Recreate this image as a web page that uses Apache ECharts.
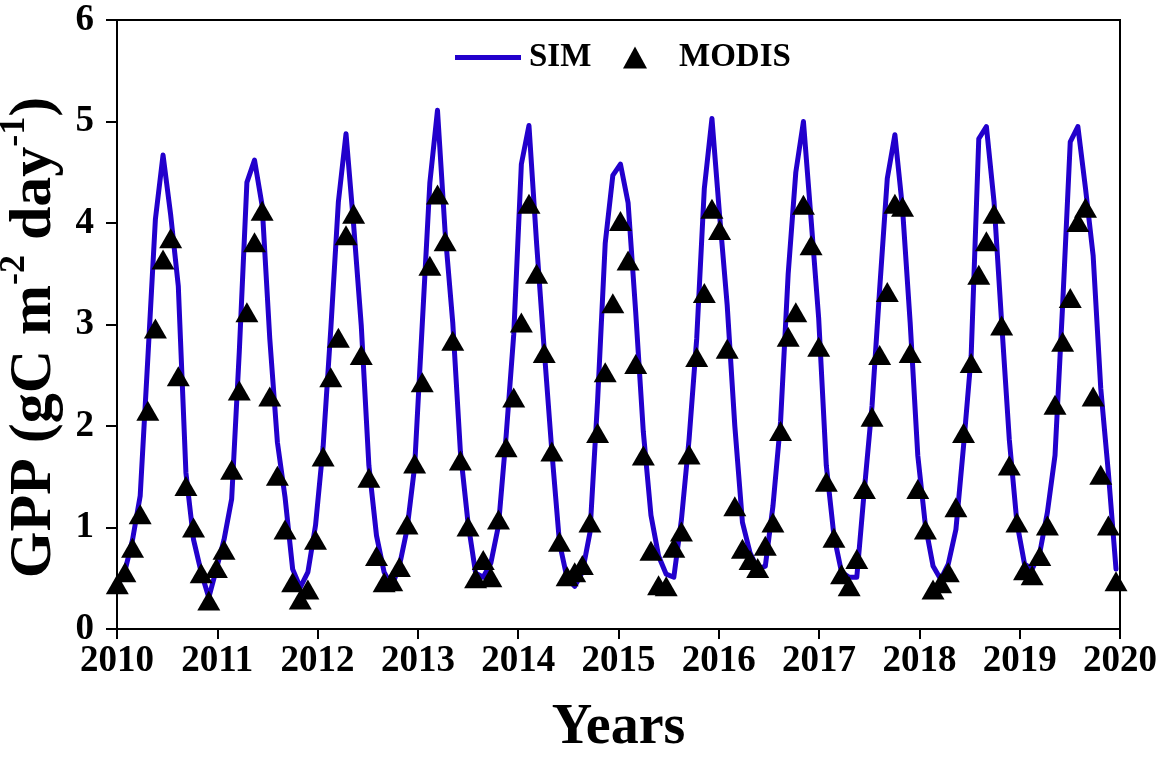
<!DOCTYPE html>
<html>
<head>
<meta charset="utf-8">
<script src="https://cdn.jsdelivr.net/npm/echarts@6/dist/echarts.min.js"></script>
<style>
html,body{margin:0;padding:0;background:#fff;}
#chart{width:1169px;height:757px;}
</style>
</head>
<body>
<div id="chart"></div>
<script>
// x-axis tick labels (years)
const yearTicks = [2010, 2011, 2012, 2013, 2014, 2015, 2016, 2017, 2018, 2019, 2020];

// MODIS GPP (gC m-2 day-1), 132 time steps spanning the axis
const modis = [
  0.44, 0.56, 0.80, 1.13, 2.15, 2.96, 3.64, 3.85, 2.49, 1.41, 1.00, 0.55,
  0.28, 0.60, 0.78, 1.57, 2.35, 3.12, 3.81, 4.12, 2.29, 1.51, 0.98, 0.46,
  0.29, 0.39, 0.88, 1.70, 2.48, 2.87, 3.88, 4.09, 2.70, 1.49, 0.72, 0.46,
  0.47, 0.61, 1.03, 1.63, 2.43, 3.58, 4.28, 3.82, 2.84, 1.66, 1.01, 0.50,
  0.68, 0.51, 1.08, 1.79, 2.28, 3.02, 4.19, 3.50, 2.72, 1.75, 0.86, 0.52,
  0.56, 0.63, 1.05, 1.93, 2.53, 3.21, 4.02, 3.63, 2.61, 1.71, 0.77, 0.43,
  0.42, 0.80, 0.96, 1.72, 2.68, 3.31, 4.14, 3.93, 2.76, 1.21, 0.79, 0.68,
  0.60, 0.82, 1.05, 1.95, 2.88, 3.12, 4.18, 3.78, 2.78, 1.45, 0.90, 0.54,
  0.42, 0.69, 1.38, 2.09, 2.70, 3.32, 4.19, 4.16, 2.72, 1.38, 0.98, 0.39,
  0.45, 0.56, 1.20, 1.93, 2.62, 3.49, 3.82, 4.09, 2.99, 1.61, 1.05, 0.58,
  0.53, 0.72, 1.02, 2.21, 2.83, 3.26, 4.01, 4.15, 2.29, 1.52, 1.02, 0.47
];

// Simulated GPP, same time steps
const sim = [
  0.42, 0.57, 0.88, 1.31, 2.66, 4.04, 4.67, 4.08, 3.38, 1.54, 0.88, 0.56,
  0.31, 0.59, 0.88, 1.28, 2.73, 4.40, 4.62, 4.17, 2.86, 1.84, 1.30, 0.59,
  0.41, 0.56, 1.02, 1.80, 2.95, 4.21, 4.88, 3.98, 2.99, 1.61, 0.92, 0.56,
  0.42, 0.62, 0.98, 1.60, 3.00, 4.40, 5.11, 3.91, 3.02, 1.75, 1.05, 0.55,
  0.51, 0.65, 1.02, 1.90, 2.90, 4.58, 4.96, 3.80, 2.75, 1.75, 0.85, 0.50,
  0.42, 0.56, 0.95, 2.25, 3.80, 4.47, 4.58, 4.20, 3.12, 1.94, 1.12, 0.72,
  0.54, 0.51, 1.08, 1.87, 2.86, 4.34, 5.03, 4.08, 3.19, 2.00, 1.05, 0.75,
  0.59, 0.62, 1.21, 2.04, 3.50, 4.50, 5.00, 4.04, 3.06, 1.61, 0.92, 0.56,
  0.51, 0.51, 1.38, 2.20, 3.35, 4.44, 4.87, 4.14, 3.02, 1.71, 1.02, 0.62,
  0.49, 0.64, 0.98, 1.80, 2.69, 4.83, 4.95, 4.21, 3.02, 1.87, 1.05, 0.64,
  0.59, 0.75, 1.15, 1.71, 3.19, 4.80, 4.95, 4.34, 3.68, 2.37, 1.54, 0.59
];

// time-step categories (one per observation)
const steps = modis.map((_, i) => 't' + (i + 1));

const FONT = '"Liberation Serif", "Times New Roman", serif';

const chart = echarts.init(document.getElementById('chart'), null, {renderer: 'canvas'});
chart.setOption({
  backgroundColor: '#ffffff',
  animation: false,
  legend: [
    {
      data: [{name: 'SIM', icon: 'rect'}],
      left: 450, top: 36,
      itemWidth: 66, itemHeight: 5,
      textStyle: {fontFamily: FONT, fontWeight: 'bold', fontSize: 33, color: '#000', padding: [0, 0, 0, 3]}
    },
    {
      data: [{name: 'MODIS', icon: 'triangle'}],
      left: 618, top: 36,
      itemWidth: 24, itemHeight: 22,
      textStyle: {fontFamily: FONT, fontWeight: 'bold', fontSize: 33, color: '#000', padding: [0, 0, 0, 27]}
    }
  ],
  grid: [
    {left: 117, top: 20, width: 1003, height: 609, show: true, borderColor: '#000', borderWidth: 2,
     containLabel: false, outerBoundsMode: 'none'},
    {left: 117.3, top: 20, width: 998.7, height: 609, containLabel: false, outerBoundsMode: 'none'}
  ],
  xAxis: [
    {
      type: 'value', gridIndex: 0, min: yearTicks[0], max: yearTicks[yearTicks.length - 1], interval: 1,
      name: 'Years', nameLocation: 'middle', nameGap: 72,
      nameTextStyle: {fontFamily: FONT, fontWeight: 'bold', fontSize: 56, color: '#000'},
      axisLine: {show: true, lineStyle: {color: '#000', width: 2}},
      axisTick: {show: true, inside: false, length: 10, lineStyle: {color: '#000', width: 2}},
      axisLabel: {fontFamily: FONT, fontWeight: 'bold', fontSize: 37, color: '#000', margin: 14,
                  formatter: v => String(v)},
      splitLine: {show: false}
    },
    {
      type: 'category', gridIndex: 1, data: steps, boundaryGap: false, show: false
    }
  ],
  yAxis: [
    {
      type: 'value', gridIndex: 0, min: 0, max: 6, interval: 1,
      name: '{b|GPP (gC m}{s|-2}{b| day}{s|-1}{b|)}',
      nameLocation: 'middle', nameGap: 46, nameRotate: 90,
      nameTextStyle: {
        fontFamily: FONT, fontWeight: 'bold', fontSize: 60, color: '#000',
        padding: [0, 26, 0, 0],
        rich: {
          b: {fontFamily: FONT, fontWeight: 'bold', fontSize: 60, color: '#000', verticalAlign: 'bottom', lineHeight: 68},
          s: {fontFamily: FONT, fontWeight: 'bold', fontSize: 36, color: '#000', verticalAlign: 'top', lineHeight: 68}
        }
      },
      axisLine: {show: true, lineStyle: {color: '#000', width: 2}},
      axisTick: {show: true, inside: false, length: 11, lineStyle: {color: '#000', width: 2}},
      axisLabel: {fontFamily: FONT, fontWeight: 'bold', fontSize: 37, color: '#000', margin: 23},
      splitLine: {show: false}
    },
    {
      type: 'value', gridIndex: 1, min: 0, max: 6, show: false
    }
  ],
  series: [
    {
      name: 'SIM', type: 'line', xAxisIndex: 1, yAxisIndex: 1, data: sim,
      symbol: 'none', smooth: false, z: 2,
      lineStyle: {color: '#2200cc', width: 5, join: 'round', cap: 'round'},
      itemStyle: {color: '#2200cc'}
    },
    {
      name: 'MODIS', type: 'scatter', xAxisIndex: 1, yAxisIndex: 1, data: modis,
      symbol: 'triangle', symbolSize: [23, 20], z: 3,
      itemStyle: {color: '#000', opacity: 1, borderWidth: 0}
    }
  ]
});
</script>
</body>
</html>
